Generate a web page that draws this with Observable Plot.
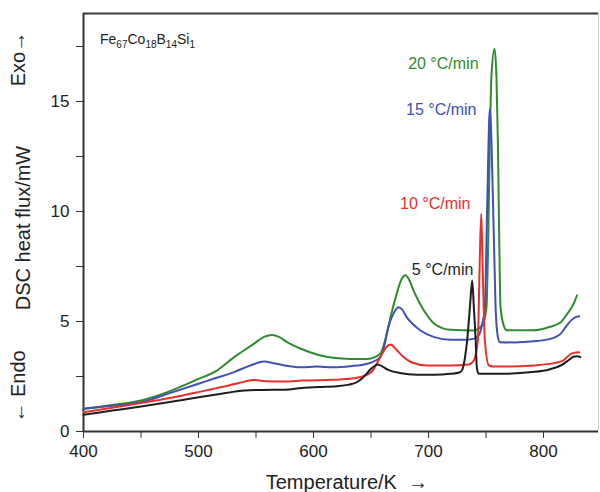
<!DOCTYPE html>
<html><head><meta charset="utf-8">
<script src="https://cdn.jsdelivr.net/npm/d3@7"></script>
<script src="https://cdn.jsdelivr.net/npm/@observablehq/plot@0.6"></script>
<style>body{margin:0;background:#fff}</style>
</head><body><div id="chart"></div>
<script>
// ---- data ----
const rates = ["20 °C/min", "15 °C/min", "10 °C/min", "5 °C/min"];

const temp5 = [400,425,450,475,500,520,540,555,575,590,605,620,630,638,644,650,656,660,665,675,690,705,719,727,729.3,731.5,733.6,736,738,739.4,741,742,743.6,762,790,805,815,822,826,829,832];
const flux5 = [0.76,0.95,1.14,1.34,1.56,1.72,1.86,1.89,1.9,1.98,2.02,2.06,2.12,2.25,2.5,2.85,3.05,2.95,2.8,2.66,2.58,2.58,2.62,2.68,2.8,3.3,4.14,5.65,6.86,5.65,4.14,2.9,2.62,2.62,2.7,2.82,3.0,3.25,3.4,3.42,3.38];

const temp10 = [400,425,450,475,500,520,535,548,560,575,590,617,635,645,651,658,663,667,672,678,685,699,719,735,739.4,742.9,744.3,745.8,747.2,749,752.5,756,770,791,810,817,823,827,831];
const flux10 = [0.88,1.08,1.29,1.52,1.79,2.02,2.2,2.34,2.28,2.27,2.32,2.35,2.42,2.55,2.74,3.38,3.82,3.95,3.72,3.4,3.15,3.0,3.0,3.05,3.23,4.14,7.2,9.9,7.2,4.14,3.0,2.96,2.95,3.0,3.12,3.22,3.5,3.58,3.6];

const temp15 = [400,425,450,473,500,515,531,545,557,566,575,589,603,617,632,647,658,662,665,669,674,677,681,687,693,705,719,731,739,744,746.7,749,751,753.3,756.2,758.3,760.3,762,775,791,805,815,820,824,828,831];
const flux15 = [1.03,1.17,1.33,1.71,2.17,2.43,2.7,3.0,3.18,3.1,3.0,2.92,2.95,2.92,2.97,3.08,3.38,4.0,4.74,5.3,5.65,5.55,5.2,4.85,4.59,4.29,4.17,4.17,4.21,4.4,4.9,5.65,10.2,14.67,10.2,5.65,4.3,4.06,4.05,4.1,4.2,4.45,4.8,5.05,5.2,5.24];

const temp20 = [400,425,450,473,500,516,531,548,557,564,570,577,589,603,617,632,647,658,663,667,672,676,680,684,687,696,705,712,719,739,745,747.5,750.4,751.9,753.3,754.8,757.4,759,760.3,761.5,762.6,765.5,768,791,805,815,820,824,827,829];
const flux20 = [1.03,1.2,1.41,1.79,2.39,2.77,3.38,3.98,4.3,4.39,4.3,4.06,3.76,3.5,3.35,3.3,3.3,3.53,4.3,5.2,6.2,6.86,7.1,6.8,6.4,5.5,4.9,4.7,4.62,4.59,4.74,4.9,5.65,8.68,13.2,16.26,17.4,16.26,13.2,8.68,5.65,4.8,4.6,4.6,4.75,4.97,5.3,5.6,5.9,6.18];

const xTicks = [400, 500, 600, 700, 800];
const xMinor = [450, 550, 650, 750];
const yTicks = [0, 5, 10, 15];
const yMinor = [2.5, 7.5, 12.5, 17.5];

// label anchor points (data units)
const labelT = [743.5, 741.7, 736.5, 739];
const labelV = [16.7, 14.6, 10.36, 7.36];

const compParts = [["Fe", false], ["67", true], ["Co", false], ["18", true], ["B", false], ["14", true], ["Si", false], ["1", true]];

// ---- build ----
const colors = ["#2e8b2e", "#4150b4", "#e8302a", "#1e1e1e"];
const seriesT = [temp20, temp15, temp10, temp5];
const seriesV = [flux20, flux15, flux10, flux5];
const rows = rates.flatMap((r, k) => seriesT[k].map((t, i) => ({T: t, v: seriesV[k][i], rate: r})));
const labels = rates.map((r, k) => ({rate: r, T: labelT[k], v: labelV[k]}));

const font = "'Liberation Sans', Arial, Helvetica, sans-serif";

const plot = Plot.plot({
  width: 600, height: 492,
  marginLeft: 83, marginRight: 2, marginTop: 13, marginBottom: 61,
  style: {fontFamily: font, fontSize: "17px", color: "#222", background: "#fff"},
  x: {domain: [400, 847.8]},
  y: {domain: [0, 19]},
  color: {domain: rates, range: colors},
  marks: [
    Plot.axisX({ticks: xTicks, tickSize: 7, tickPadding: 6, label: null, stroke: "#333", fontSize: 17}),
    Plot.axisX({ticks: xMinor, tickSize: 7, text: null, label: null, stroke: "#333"}),
    Plot.axisY({ticks: yTicks, tickSize: 7, tickPadding: 7, label: null, stroke: "#333", fontSize: 17}),
    Plot.axisY({ticks: yMinor, tickSize: 7, text: null, label: null, stroke: "#333"}),
    Plot.ruleX([847.8], {stroke: "#cfcfcf", strokeWidth: 1}),
    Plot.ruleY([19], {stroke: "#3a3a3a", strokeWidth: 2}),
    Plot.ruleX([400], {stroke: "#333", strokeWidth: 2}),
    Plot.ruleY([0], {stroke: "#333", strokeWidth: 2}),
    Plot.line(rows, {x: "T", y: "v", z: "rate", stroke: "rate", curve: "monotone-x", strokeWidth: 2}),
    Plot.text(labels, {x: "T", y: "v", text: "rate", fill: "rate", textAnchor: "end", fontSize: 16}),
    Plot.text(["DSC heat flux/mW"], {frameAnchor: "left", textAnchor: "middle", y: 9.25, rotate: -90, dx: -60, fontSize: 20, fill: "#222"}),
    Plot.text(["Exo\u2192"], {frameAnchor: "left", textAnchor: "middle", y: 16.93, rotate: -90, dx: -65, fontSize: 20, fill: "#222"}),
    Plot.text(["\u2190 Endo"], {frameAnchor: "left", textAnchor: "middle", y: 2.05, rotate: -90, dx: -65, fontSize: 20, fill: "#222"}),
    Plot.text(["Temperature/K  \u2192"], {frameAnchor: "bottom", textAnchor: "middle", x: 629, dy: 57, fontSize: 20, fill: "#222"})
  ]
});

const xs = plot.scale("x"), ys = plot.scale("y");
const comp = d3.select(plot).append("text")
  .attr("x", xs.apply(414.8)).attr("y", ys.apply(17.6))
  .attr("text-anchor", "start")
  .attr("font-family", font).attr("font-size", 14).attr("fill", "#222");
let shifted = false;
for (const [txt, sub] of compParts) {
  const ts = comp.append("tspan").text(txt).attr("font-size", sub ? 10 : 14);
  if (sub && !shifted) { ts.attr("dy", 4); shifted = true; }
  else if (!sub && shifted) { ts.attr("dy", -4); shifted = false; }
}

document.getElementById("chart").appendChild(plot);
</script></body></html>
